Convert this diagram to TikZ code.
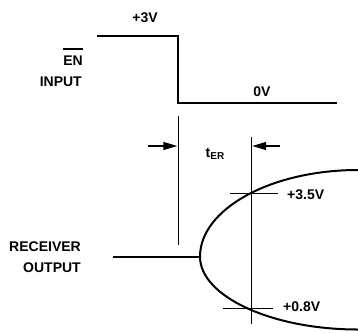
\documentclass[tikz,border=0pt]{standalone}
\usepackage{fontspec}
\setmainfont{Liberation Sans}
\usetikzlibrary{arrows.meta}
\begin{document}
\begin{tikzpicture}[x=1pt, y=-1pt,
    wave/.style={line width=2pt},
    guide/.style={line width=0.8pt},
    lbl/.style={font=\fontsize{14}{16}\selectfont\bfseries, inner sep=0pt},
    tip/.style={-{Triangle[length=14pt,width=8pt]}, line width=1.2pt}]
    \useasboundingbox (0,0) rectangle (358,333);

    % EN input
    \coordinate (start) at (97,35.7);
    \coordinate (edge top) at (178,35.7);
    \coordinate (edge bot) at (178,102.5);
    \coordinate (stop) at (337,102.5);
    \draw[wave] (start) -- (edge top) -- (edge bot) -- (stop);
    \node[lbl] (high) at (145,18) {+3V};
    \node[lbl] (low) at (262,92) {0V};
    \node[lbl, anchor=east] (en) at (83,60.5) {EN};
    \draw[line width=1.1pt] ([yshift=6.5pt]en.north west) -- ([yshift=6.5pt]en.north east);
    \node[lbl, anchor=east] (input) at (82,82) {INPUT};

    % Receiver output
    \coordinate (rx start) at (113,256.7);
    \coordinate (rx knee) at (200,256.7);
    \coordinate (rx hi) at (358,170);
    \coordinate (rx lo) at (358,329.5);
    \draw[wave] (rx start) -- (rx knee);
    \draw[wave] (rx hi) .. controls (271,170) and (200,209) .. (rx knee)
        .. controls (200,296) and (271,329.5) .. (rx lo);
    \node[lbl, anchor=east] (receiver) at (81,247) {RECEIVER};
    \node[lbl, anchor=east] (output) at (81,267.5) {OUTPUT};

    % Delay markers
    \coordinate (left top) at (178,116);
    \coordinate (left bot) at (178,245);
    \coordinate (right top) at (251.5,137);
    \coordinate (right bot) at (251.5,324);
    \draw[guide] (left top) -- (left bot);
    \draw[guide] (right top) -- (right bot);
    \coordinate (tail a) at (148,146);
    \coordinate (head a) at (177.3,146);
    \coordinate (tail b) at (280,146);
    \coordinate (head b) at (252.2,146);
    \draw[tip] (tail a) -- (head a);
    \draw[tip] (tail b) -- (head b);
    \node[lbl] (ter) at (215,154) {t\raisebox{-2.5pt}{\fontsize{10}{12}\selectfont ER}};

    % Thresholds
    \coordinate (hi a) at (230,193);
    \coordinate (hi b) at (278,193);
    \coordinate (lo a) at (223,308);
    \coordinate (lo b) at (273,308);
    \draw[guide] (hi a) -- (hi b);
    \draw[guide] (lo a) -- (lo b);
    \node[lbl, anchor=west] (vhi) at (287,195) {+3.5V};
    \node[lbl, anchor=west] (vlo) at (283,307) {+0.8V};
\end{tikzpicture}
\end{document}
